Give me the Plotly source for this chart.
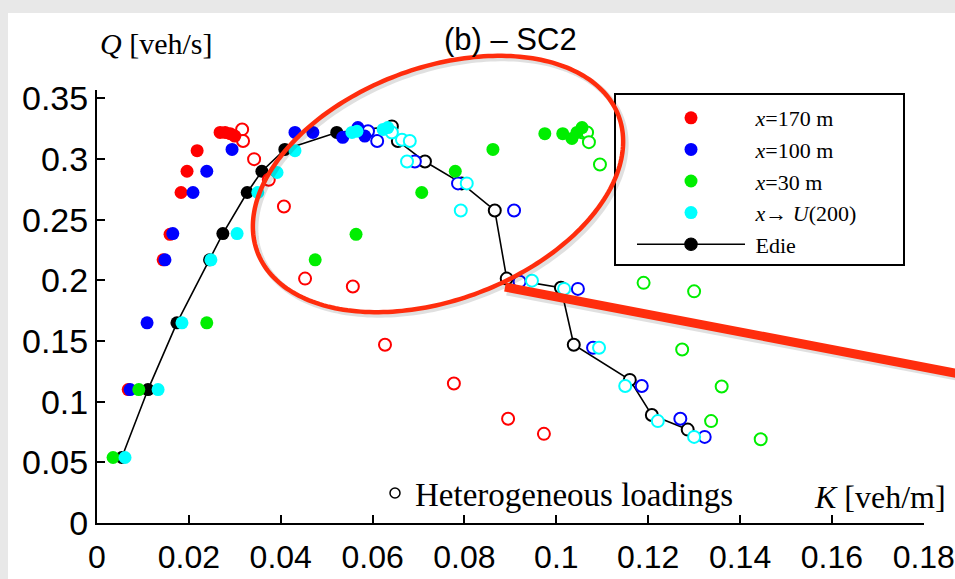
import numpy as np
import plotly.graph_objects as go

# ---------------- data (K [veh/m], Q [veh/s]) ----------------
red_K = [0.0068, 0.0144, 0.0159, 0.0183, 0.0196, 0.0218, 0.0268, 0.0279, 0.0290, 0.0300]
red_Q = [0.110, 0.217, 0.238, 0.2725, 0.290, 0.307, 0.322, 0.322, 0.321, 0.319]
red_het_K = [0.0316, 0.0318, 0.0342, 0.0374, 0.0407, 0.0453, 0.0557, 0.0627, 0.0777, 0.0895, 0.0973]
red_het_Q = [0.3245, 0.315, 0.300, 0.283, 0.261, 0.2015, 0.195, 0.147, 0.115, 0.086, 0.0735]

blue_K = [0.0072, 0.0109, 0.0148, 0.0165, 0.0209, 0.0239, 0.0294, 0.0431, 0.0470, 0.0535, 0.0568, 0.0583]
blue_Q = [0.110, 0.165, 0.217, 0.2386, 0.2725, 0.290, 0.308, 0.322, 0.322, 0.318, 0.326, 0.319]
blue_het_K = [0.0590, 0.0610, 0.0692, 0.0786, 0.0908, 0.0920, 0.1047, 0.1080, 0.1186, 0.1270, 0.1323]
blue_het_Q = [0.323, 0.315, 0.298, 0.280, 0.2577, 0.199, 0.193, 0.1445, 0.113, 0.086, 0.071]

green_K = [0.0035, 0.0091, 0.0239, 0.0475, 0.0564, 0.0707, 0.0780, 0.0862, 0.0975, 0.1014, 0.1034, 0.1045, 0.1056]
green_Q = [0.054, 0.110, 0.165, 0.217, 0.238, 0.2725, 0.290, 0.308, 0.321, 0.321, 0.317, 0.322, 0.326]
green_het_K = [0.1058, 0.1067, 0.1071, 0.1095, 0.1190, 0.1300, 0.1274, 0.1360, 0.1337, 0.1445]
green_het_Q = [0.322, 0.322, 0.314, 0.2956, 0.198, 0.191, 0.143, 0.1125, 0.084, 0.069]

cyan_K = [0.0061, 0.0133, 0.0185, 0.0248, 0.0305, 0.0350, 0.0392, 0.0431, 0.0555, 0.0566, 0.0623, 0.0633]
cyan_Q = [0.054, 0.110, 0.165, 0.217, 0.2386, 0.2725, 0.289, 0.307, 0.322, 0.323, 0.3245, 0.326]
cyan_het_K = [0.0642, 0.0664, 0.0681, 0.0675, 0.0805, 0.0792, 0.0947, 0.1017, 0.1093, 0.1150, 0.1221, 0.1300]
cyan_het_Q = [0.322, 0.316, 0.315, 0.298, 0.280, 0.2577, 0.1998, 0.193, 0.1445, 0.113, 0.084, 0.071]

edie_K = [0.0054, 0.0111, 0.0174, 0.0245, 0.0274, 0.0327, 0.0359, 0.0409, 0.0522]
edie_Q = [0.054, 0.110, 0.165, 0.217, 0.2386, 0.2725, 0.290, 0.308, 0.322]
edie_het_K = [0.0642, 0.0655, 0.0714, 0.0794, 0.0866, 0.0892, 0.1010, 0.1038, 0.1160, 0.1208, 0.1286]
edie_het_Q = [0.327, 0.315, 0.298, 0.280, 0.2577, 0.2015, 0.194, 0.147, 0.118, 0.089, 0.077]

x_ticks = [0, 0.02, 0.04, 0.06, 0.08, 0.1, 0.12, 0.14, 0.16, 0.18]
x_ticktext = ["0", "0.02", "0.04", "0.06", "0.08", "0.1", "0.12", "0.14", "0.16", "0.18"]
y_ticks = [0, 0.05, 0.1, 0.15, 0.2, 0.25, 0.3, 0.35]
y_ticktext = ["0", "0.05", "0.1", "0.15", "0.2", "0.25", "0.3", "0.35"]

# ---------------- layout geometry (pixels) ----------------
W, H = 955, 579
L, R, T, B = 97, 924, 90, 523


def px(xp):
    return (xp - L) / (R - L)


def py(yp):
    return (B - yp) / (B - T)


SERIF = "Liberation Serif, Times New Roman, serif"
SANS = "Liberation Sans, Arial, sans-serif"
FS = 13   # filled marker size
OS = 12   # open marker size
NB = "\u00a0"

fig = go.Figure()

nf, nh = len(edie_K), len(edie_het_K)
fig.add_trace(go.Scatter(
    x=edie_K + edie_het_K, y=edie_Q + edie_het_Q, mode="lines+markers",
    name=NB + "Edie", legendrank=5,
    line=dict(color="black", width=1.6),
    marker=dict(size=[FS] * nf + [OS] * nh, color=["black"] * nf + ["white"] * nh, opacity=1,
                line=dict(color="black", width=[0] * nf + [2] * nh)),
))

series = [
    ("<i>x</i>=170 m", "#ff0000", red_K, red_Q, red_het_K, red_het_Q, 1),
    ("<i>x</i>=100 m", "#0000ff", blue_K, blue_Q, blue_het_K, blue_het_Q, 2),
    ("<i>x</i>=30 m", "#00ee00", green_K, green_Q, green_het_K, green_het_Q, 3),
    ("<i>x</i>\u2192 <i>U</i>(200)", "#00ffff", cyan_K, cyan_Q, cyan_het_K, cyan_het_Q, 4),
]
for name, col, k, q, hk, hq, rank in series:
    fig.add_trace(go.Scatter(x=hk, y=hq, mode="markers", showlegend=False,
                             marker=dict(size=OS, color="white", opacity=1,
                                         line=dict(color=col, width=2))))
    fig.add_trace(go.Scatter(x=k, y=q, mode="markers", name=NB + name, legendrank=rank,
                             marker=dict(size=FS, color=col, opacity=1, line=dict(width=0))))

fig.add_trace(go.Scatter(x=[None], y=[None], mode="markers", name="Heterogeneous loadings",
                         legend="legend2",
                         marker=dict(size=10, color="white", line=dict(color="black", width=1.5))))

shapes = []
# grey frame / white page
shapes.append(dict(type="rect", xref="paper", yref="paper", layer="below",
                   x0=px(8), x1=px(W + 5), y0=py(13), y1=py(H + 5),
                   fillcolor="white", line=dict(width=0)))
# legend box
shapes.append(dict(type="rect", xref="paper", yref="paper",
                   x0=px(615), x1=px(904), y0=py(94), y1=py(265),
                   line=dict(color="black", width=2), fillcolor="rgba(0,0,0,0)"))
# red ellipse
tt = np.linspace(0, 2 * np.pi, 241)
th = np.deg2rad(20.7)
cx, cy, a, b = 438, 184, 193, 116
ex = cx + a * np.cos(tt) * np.cos(th) - b * np.sin(tt) * np.sin(th)
ey = cy - (a * np.cos(tt) * np.sin(th) + b * np.sin(tt) * np.cos(th))
for off, colr, wd in [(2.5, "rgba(0,0,0,0.12)", 6), (0, "#ff2d0d", 4.5)]:
    path = "M " + " L ".join(f"{px(x + off):.5f},{py(y + off):.5f}" for x, y in zip(ex, ey)) + " Z"
    shapes.append(dict(type="path", xref="paper", yref="paper", path=path,
                       line=dict(color=colr, width=wd)))
# red pointer line
shapes.append(dict(type="line", xref="paper", yref="paper",
                   x0=px(507), y0=py(291), x1=px(962), y1=py(377),
                   line=dict(color="rgba(0,0,0,0.12)", width=9)))
shapes.append(dict(type="line", xref="paper", yref="paper",
                   x0=px(505), y0=py(287), x1=px(960), y1=py(374),
                   line=dict(color="#ff2d0d", width=9)))

annotations = [
    dict(text="(b) \u2013 SC2", xref="paper", yref="paper", x=px(510), y=py(39),
         showarrow=False, font=dict(family=SANS, size=31, color="black"), xanchor="center", yanchor="middle"),
    dict(text="<i>Q</i> [veh/s]", xref="paper", yref="paper", x=px(98), y=py(44),
         showarrow=False, font=dict(family=SERIF, size=30, color="black"), xanchor="left", yanchor="middle"),
    dict(text="<i>K</i> [veh/m]", xref="paper", yref="paper", x=px(812), y=py(497),
         showarrow=False, font=dict(family=SERIF, size=32, color="black"), xanchor="left", yanchor="middle"),
]

fig.update_layout(
    width=W, height=H,
    margin=dict(l=L, r=W - R, t=T, b=H - B, pad=0, autoexpand=False),
    paper_bgcolor="#e8e8e8", plot_bgcolor="white",
    shapes=shapes, annotations=annotations,
    showlegend=True,
    legend=dict(x=px(632), y=py(97), xanchor="left", yanchor="top",
                bgcolor="rgba(0,0,0,0)", borderwidth=0, itemwidth=108,
                font=dict(family=SERIF, size=22, color="black"), tracegroupgap=0),
    legend2=dict(x=px(375), y=py(493), xanchor="left", yanchor="middle",
                 bgcolor="rgba(0,0,0,0)", borderwidth=0,
                 font=dict(family=SERIF, size=33, color="black")),
    xaxis=dict(range=[0, 0.18005], tickvals=x_ticks, ticktext=x_ticktext, automargin=False,
               showgrid=False, zeroline=False, showline=True, linecolor="black", linewidth=2,
               ticks="inside", ticklen=8, tickwidth=1.5, tickcolor="black",
               ticklabelstandoff=5, ticklabeloverflow="allow",
               tickfont=dict(family=SANS, size=32, color="black")),
    yaxis=dict(range=[0, 0.357], tickvals=y_ticks, ticktext=y_ticktext, automargin=False,
               showgrid=False, zeroline=False, showline=True, linecolor="black", linewidth=2,
               ticks="inside", ticklen=8, tickwidth=1.5, tickcolor="black",
               ticklabeloverflow="allow",
               tickfont=dict(family=SANS, size=34, color="black")),
)

fig.write_html("out.html", config={"displayModeBar": False},
               post_script="document.body.style.margin='0';")
